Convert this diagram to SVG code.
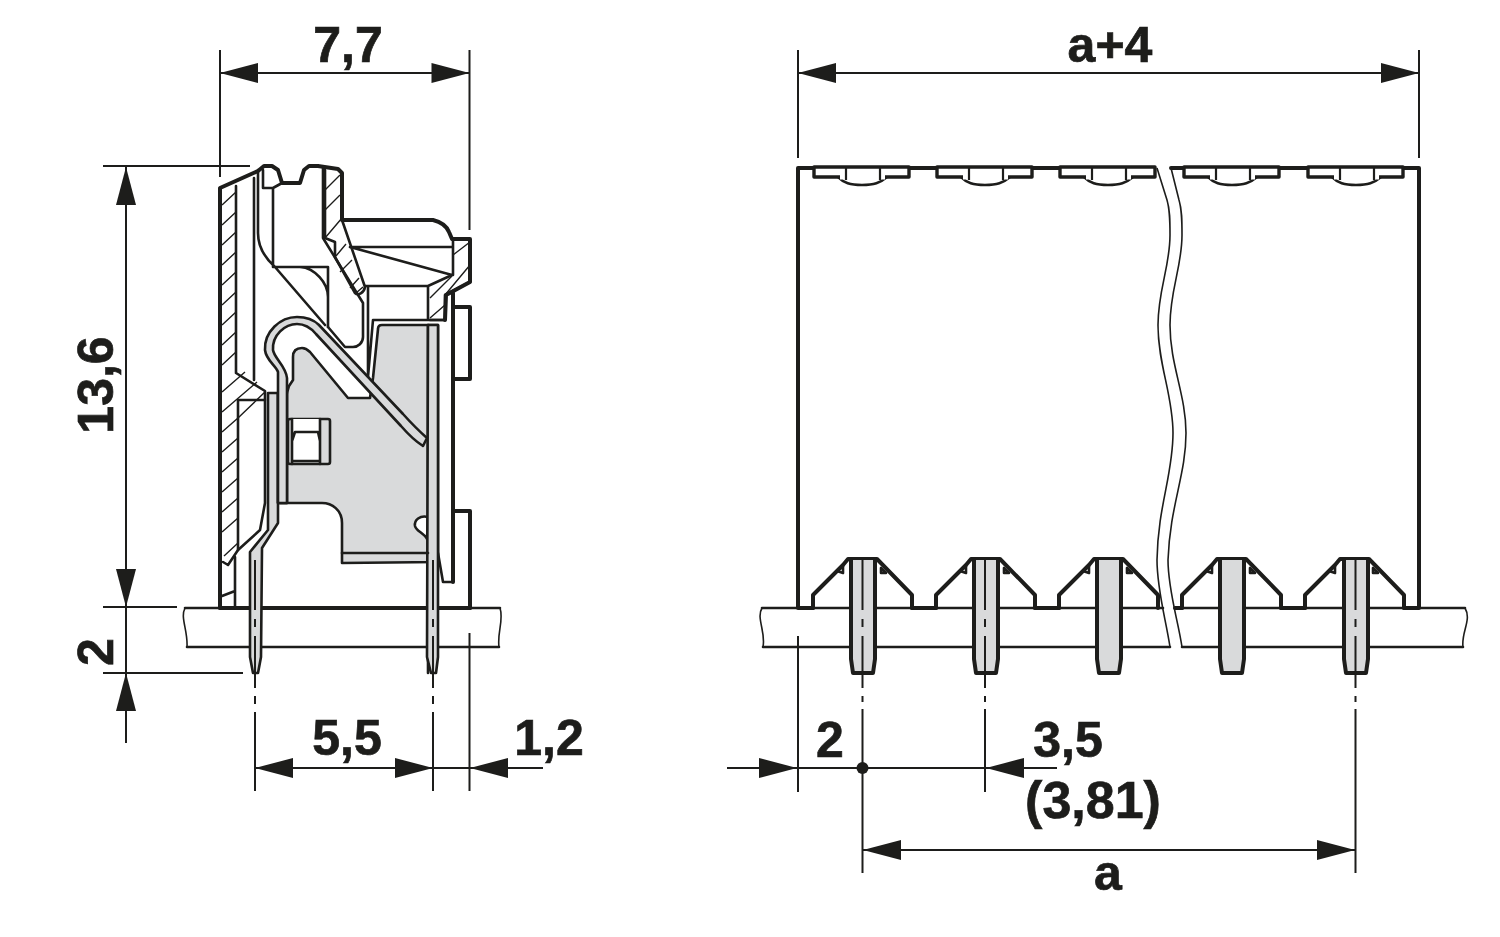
<svg xmlns="http://www.w3.org/2000/svg" xmlns:xlink="http://www.w3.org/1999/xlink" width="1500" height="937" viewBox="0 0 1500 937">
<style>
.b{fill:none;stroke:#1d1d1b;stroke-width:4;stroke-linejoin:round;stroke-linecap:round}
.m{fill:none;stroke:#1d1d1b;stroke-width:2.6;stroke-linejoin:round;stroke-linecap:round}
.t{fill:none;stroke:#1d1d1b;stroke-width:1.6;stroke-linejoin:round}
.d{fill:none;stroke:#1d1d1b;stroke-width:2}
.c{fill:none;stroke:#1d1d1b;stroke-width:2;stroke-dasharray:50 9 8 9 52 8 8 8 90}
.g{fill:#d9dadb;stroke:#1d1d1b;stroke-width:2.6;stroke-linejoin:round}
.w{fill:#fff;stroke:#1d1d1b;stroke-width:2.6;stroke-linejoin:round}
.h{fill:none;stroke:#1d1d1b;stroke-width:1.4}
text{font-family:"Liberation Sans",Arial,sans-serif;font-weight:700;font-size:50px;fill:#1d1d1b;stroke:#1d1d1b;stroke-width:.7;text-anchor:middle}
</style>
<defs>
<path id="a" d="M0 0L-38 -10L-38 10Z" fill="#1d1d1b"/>
<g id="clip">
<path class="w" d="M25 177C31 183 37 185 49 185C61 185 67 183 74 177Z"/>
<path class="w" d="M1 167L96 167L96 177L1 177Z" style="stroke-width:3.4"/>
<path d="M27 177L72 177" stroke="#fff" stroke-width="5" fill="none"/>
<path d="M33 168L33 180M67 168L67 180" stroke="#1d1d1b" stroke-width="2.2" fill="none"/>
</g>
<g id="housing">
<path class="b" d="M0 13L0 0L30 -30L35 -36L64 -36L99 0L99 13"/>
<path class="m" d="M24 -24L30 -22L30 -29ZM68 -27L68 -22L73 -22Z" fill="#1d1d1b"/>
</g>
<g id="pin">
<path d="M0 0L24 0L24 97L22 113L2 113L0 97Z" fill="#d9dadb"/>
<path class="b" d="M0 0L0 99L2 113L22 113L24 99L24 0"/>
</g>
</defs>

<g id="board-left">
<path class="m" d="M185 608L500 608M187 647L499 647"/>
<path class="t" d="M185 608C180 618 188 630 187 647M500 608C504 620 497 632 499 647"/>
</g>

<g id="side-housing">
<path class="b" d="M220 608L220 188L258 171L264 166L272 166L278 170L282 183L300 183L304 170L309 166L318 166L338 169L342 173L342 220L433 220C441 222 447 227 449 232L452 239L470 239L470 282L446 295L445 320M470 608L470 511L453 511L453 293M453 511L453 582"/>
<path class="b" d="M220 608L470 608"/>
<path class="b" d="M453 307L470 307L470 379L453 379"/>
<path class="m" d="M236 186L236 373L265 391L265 400L238 400L238 550L228 565L223 562M254 178L254 380M258 170L258 233C258 248 265 258 275 267L325 325M263 170L263 188L273 188L282 183M273 188L273 267L328 267L328 327M300 267C315 268 328 283 328 297"/>
<path class="m" d="M323 167L323 238L363 303L363 337C363 343 358 347 353 347L345 347L328 327"/>
<path class="m" d="M325 170L325 238L335 242L335 257L355 293C358 296 364 293 365 287L342 220"/>
<path class="m" d="M350 247L453 247M350 247L452 275M365 286L428 286L452 275M368 286L368 377M428 286L428 320M373 320L445 320M373 320L368 377M453 240L453 275"/>
<path class="m" d="M430 320L445 320L445 295L470 282M235 557L235 608M222 596L235 591M265 400L265 503L260 530L238 550"/>
<path class="m" d="M453 582L443 582L438 553"/>
<path class="h" d="M222 205L236 192M222 225L236 212M222 245L236 232M222 265L236 252M222 285L236 272M222 305L236 292M222 325L236 312M222 345L236 332M222 365L236 352M222 392L245 372M222 412L257 382M222 432L238 418L265 392M222 452L238 438M222 472L238 458M222 492L238 478M222 512L238 498M222 532L238 518M224 556L238 543"/>
<path class="h" d="M325 190L340 175M325 210L340 195M325 238L342 218M336 256L346 244M340 272L352 260M350 288L359 278M356 293L363 287"/>
<path class="h" d="M453 255L470 242M430 298L452 276M430 318L445 305M445 295L470 265"/>
</g>

<g id="side-contact">
<path class="g" d="M293 357C293 350 297 348 302 348C306 348 308 350 310 352L348 398L370 398L373 378L378 329C378 326 380 325 382 325L438 325L438 562L342 563L342 523C342 510 332 503 322 503L280 503L280 393L287 393L289 386L293 380Z"/>
<path class="w" d="M428 517C420 515 414 520 415 526C416 531 424 533 427 539Z"/>
<path class="m" d="M428 325L428 673"/>
<path class="g" d="M428 325L438 325L438 657L436 673L431 673L427 657Z"/>
<path class="m" d="M342 553L428 553"/>
<path class="g" d="M268 393L278 393L278 523L262 548L261 657L258 673L253 673L250 657L250 552L268 530Z"/>
<path class="g" d="M278 393L287 393L287 503L278 503Z"/>
<path class="g" d="M278 503L278 372C276 366 266 360 265 350C264 332 280 317 297 317C306 317 313 319 319 325L403 414C412 424 419 431 427 438L423 446C415 441 408 434 401 426L316 334C311 328 305 324 297 324C285 324 272 335 273 350C274 358 286 366 287 378L287 503Z"/>
<rect x="288" y="419" width="42" height="45" rx="2" class="g"/>
<rect x="292" y="419" width="28" height="42" fill="#fff"/>
<path class="m" d="M292 419L292 464M320 419L320 464M295 432L318 432M292 461L320 461M292 441L295 432M320 441L318 432"/>
<path class="c" d="M255 560L255 791"/>
<path class="c" d="M433 560L433 791"/>
</g>

<g id="front-body">
<path class="b" d="M798 608L798 168L813 168M910 168L936 168M1033 168L1059 168M1171 168L1183 168M1280 168L1307 168M1404 168L1419 168L1419 608M798 608L813 608M912 608L936 608M1035 608L1059 608M1175 608L1182 608M1281 608L1305 608M1404 608L1419 608"/>
<use xlink:href="#clip" href="#clip" x="813"/>
<use xlink:href="#clip" href="#clip" x="936"/>
<use xlink:href="#clip" href="#clip" x="1059"/>
<use xlink:href="#clip" href="#clip" x="1183"/>
<use xlink:href="#clip" href="#clip" x="1307"/>
</g>

<g id="board-right">
<path class="m" d="M762 608L1163 608M1175 608L1465 608M763 647L1170 647M1182 647L1463 647"/>
<path class="t" d="M762 608C756 618 766 632 763 647M1465 608C1472 620 1461 632 1463 647"/>
</g>

<g id="front-housings">
<use xlink:href="#housing" href="#housing" x="813" y="595"/>
<use xlink:href="#housing" href="#housing" x="936" y="595"/>
<use xlink:href="#housing" href="#housing" x="1059" y="595"/>
<use xlink:href="#housing" href="#housing" x="1182" y="595"/>
<use xlink:href="#housing" href="#housing" x="1305" y="595"/>
</g>
<g id="front-pins">
<use xlink:href="#pin" href="#pin" x="851" y="560"/>
<use xlink:href="#pin" href="#pin" x="974" y="560"/>
<use xlink:href="#pin" href="#pin" x="1097" y="560"/>
<use xlink:href="#pin" href="#pin" x="1220" y="560"/>
<use xlink:href="#pin" href="#pin" x="1344" y="560"/>
<path class="c" d="M862.500 560L862.500 702"/>
<path class="c" d="M985 560L985 702"/>
<path class="c" d="M1355.500 560L1355.500 702"/>
</g>
<g id="break">
<path class="t" d="M1157 168L1167 200C1170 210 1170 220 1170 235C1170 267 1158 290 1158 325C1158 365 1173 395 1173 433C1173 475 1158 505 1157 560C1157 590 1166 620 1170 647"/>
<path class="t" d="M1171 168L1179 200C1182 210 1182 220 1182 235C1182 267 1170 290 1170 325C1170 365 1186 395 1186 433C1186 475 1170 505 1168 560C1168 590 1178 620 1182 647"/>
</g>

<g id="connectors">
<path class="d" d="M220 50L220 177M469.500 50L469.500 230M220 73L469.500 73M103 166L250 166M126 167L126 743M103 607L177 607M103 673L243 673M255 768L543 768M469.500 633L469.500 791"/>
<path class="d" d="M798 50L798 158M1419 50L1419 158M798 73L1419 73M727 768L1057 768M798 636L798 792M862.500 709L862.500 873M985 709L985 792M1355.500 709L1355.500 873M862.500 850L1355.500 850"/>
<use xlink:href="#a" href="#a" transform="translate(220 73) rotate(180)"/>
<use xlink:href="#a" href="#a" transform="translate(469.500 73)"/>
<use xlink:href="#a" href="#a" transform="translate(126 167) rotate(-90)"/>
<use xlink:href="#a" href="#a" transform="translate(126 607) rotate(90)"/>
<use xlink:href="#a" href="#a" transform="translate(126 673) rotate(-90)"/>
<use xlink:href="#a" href="#a" transform="translate(255 768) rotate(180)"/>
<use xlink:href="#a" href="#a" transform="translate(433 768)"/>
<use xlink:href="#a" href="#a" transform="translate(470 768) rotate(180)"/>
<use xlink:href="#a" href="#a" transform="translate(798 73) rotate(180)"/>
<use xlink:href="#a" href="#a" transform="translate(1419 73)"/>
<use xlink:href="#a" href="#a" transform="translate(797 768)"/>
<use xlink:href="#a" href="#a" transform="translate(986 768) rotate(180)"/>
<use xlink:href="#a" href="#a" transform="translate(863 850) rotate(180)"/>
<use xlink:href="#a" href="#a" transform="translate(1355 850)"/>
<circle cx="862.500" cy="768" r="6" fill="#1d1d1b"/>
</g>

<g id="labels">
<text x="348" y="62">7,7</text>
<text x="1110" y="62">a+4</text>
<text transform="translate(113 385) rotate(-90)">13,6</text>
<text transform="translate(113 652) rotate(-90)">2</text>
<text x="347" y="755">5,5</text>
<text x="549" y="755">1,2</text>
<text x="830" y="757">2</text>
<text x="1068" y="757">3,5</text>
<text x="1093" y="818" style="font-size:52px">(3,81)</text>
<text x="1108" y="890">a</text>
</g>
</svg>
